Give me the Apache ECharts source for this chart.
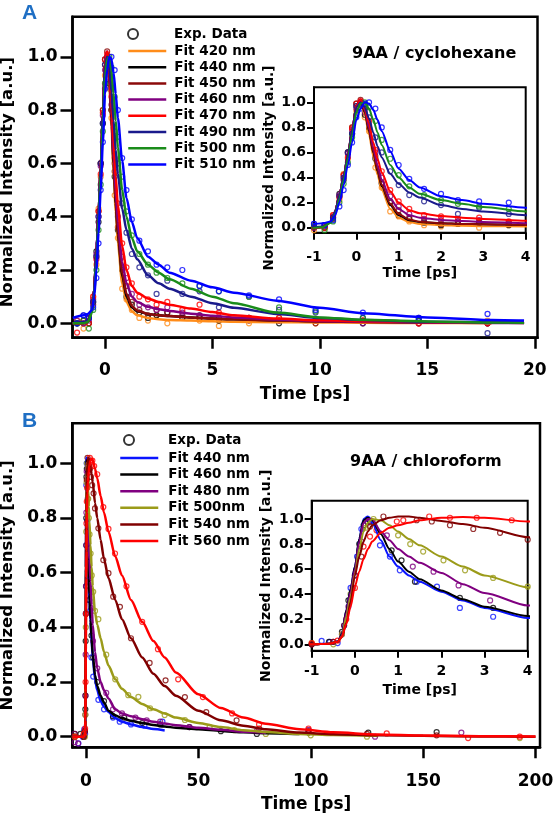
<!DOCTYPE html>
<html>
<head>
<meta charset="utf-8">
<script src="https://cdn.jsdelivr.net/npm/echarts@6/dist/echarts.min.js"></script>
<style>
html, body { margin: 0; padding: 0; background: #fff; }
#chart { width: 555px; height: 819px; }
</style>
</head>
<body>
<div id="chart"></div>
<script>
// ---- panel A : 9AA / cyclohexane ----
const fitNamesA = ['Fit 420 nm', 'Fit 440 nm', 'Fit 450 nm', 'Fit 460 nm', 'Fit 470 nm', 'Fit 490 nm', 'Fit 500 nm', 'Fit 510 nm'];
const colorsA = ['#ff8c1a', '#000000', '#8b0a0a', '#800080', '#ff0000', '#1a1a8c', '#1a8c1a', '#0000ff'];

const tA = [-1.5, -1.0, -0.8, -0.6, -0.5, -0.4, -0.3, -0.2, -0.1, 0, 0.1, 0.2, 0.3, 0.4, 0.5, 0.6, 0.8, 1.0, 1.25, 1.5, 2, 2.5, 3, 4, 5, 6, 8, 10, 12, 15, 18, 19.5];
const fitA420 = [0, 0, 0.005, 0.05, 0.13, 0.25, 0.4, 0.57, 0.76, 0.96, 1.0, 0.9, 0.74, 0.57, 0.42, 0.3, 0.15, 0.08, 0.045, 0.03, 0.02, 0.015, 0.012, 0.01, 0.008, 0.006, 0.004, 0.003, 0.002, 0.001, 0, null];
const fitA440 = [0, 0, 0.005, 0.05, 0.13, 0.26, 0.41, 0.58, 0.77, 0.97, 1.01, 0.92, 0.77, 0.6, 0.45, 0.33, 0.18, 0.1, 0.06, 0.045, 0.035, 0.03, 0.027, 0.022, 0.018, 0.015, 0.011, 0.008, 0.006, 0.004, 0.002, 0.002];
const fitA450 = [0, 0, 0.005, 0.05, 0.13, 0.26, 0.41, 0.58, 0.78, 0.97, 1.02, 0.93, 0.78, 0.61, 0.46, 0.34, 0.19, 0.11, 0.065, 0.048, 0.035, 0.03, 0.027, 0.022, 0.018, 0.015, 0.01, 0.007, 0.005, 0.003, 0.002, 0.001];
const fitA460 = [0, 0, 0.005, 0.05, 0.13, 0.26, 0.41, 0.58, 0.78, 0.97, 1.02, 0.94, 0.8, 0.64, 0.5, 0.38, 0.23, 0.15, 0.1, 0.08, 0.062, 0.053, 0.046, 0.036, 0.028, 0.022, 0.014, 0.009, 0.006, 0.003, 0.001, 0.001];
const fitA470 = [0, 0, 0.005, 0.05, 0.13, 0.26, 0.41, 0.58, 0.78, 0.97, 1.02, 0.95, 0.83, 0.68, 0.55, 0.44, 0.29, 0.2, 0.14, 0.115, 0.093, 0.08, 0.07, 0.055, 0.042, 0.03, 0.018, 0.011, 0.008, 0.005, 0.003, 0.002];
const fitA490 = [0, 0.005, 0.01, 0.05, 0.13, 0.26, 0.41, 0.58, 0.78, 0.96, 1.0, 0.96, 0.87, 0.76, 0.65, 0.56, 0.43, 0.35, 0.28, 0.24, 0.18, 0.15, 0.13, 0.1, 0.075, 0.058, 0.035, 0.02, 0.012, 0.006, 0.003, 0.002];
const fitA500 = [0, 0, 0.005, 0.04, 0.11, 0.23, 0.38, 0.55, 0.74, 0.92, 0.99, 1.0, 0.95, 0.86, 0.76, 0.66, 0.5, 0.4, 0.32, 0.27, 0.22, 0.19, 0.165, 0.13, 0.1, 0.075, 0.04, 0.022, 0.013, 0.007, 0.003, 0.002];
const fitA510 = [0.02, 0.03, 0.035, 0.05, 0.1, 0.2, 0.34, 0.5, 0.68, 0.86, 0.95, 1.0, 0.99, 0.94, 0.86, 0.77, 0.61, 0.47, 0.38, 0.32, 0.25, 0.22, 0.19, 0.16, 0.135, 0.115, 0.085, 0.058, 0.038, 0.022, 0.012, 0.01];

const tAe = [-1.3, -1.0, -0.75, -0.55, -0.4, -0.3, -0.2, -0.1, 0.0, 0.1, 0.2, 0.3, 0.45, 0.6, 0.8, 1.0, 1.25, 1.6, 2.0, 2.4, 2.9, 3.6, 4.4, 5.3, 6.7, 8.1, 9.8, 12, 14.6, 17.8];
const expA420 = [0.01, -0.02, 0.0, 0.1, 0.22, 0.43, 0.55, 0.8, 0.93, 0.98, 0.88, 0.77, 0.48, 0.32, 0.13, 0.09, 0.05, 0.02, 0.01, 0.03, 0.0, 0.02, 0.01, -0.01, 0.0, 0.02, 0.0, 0.01, 0.0, 0.01];
const expA440 = [0.0, 0.01, 0.0, 0.08, 0.27, 0.38, 0.6, 0.75, 0.99, 1.0, 0.9, 0.8, 0.55, 0.35, 0.2, 0.1, 0.07, 0.04, 0.02, 0.03, 0.04, 0.02, 0.03, 0.01, 0.02, 0.0, 0.01, 0.0, 0.01, 0.0];
const expA450 = [0.0, 0.0, 0.02, 0.07, 0.25, 0.42, 0.6, 0.8, 0.97, 1.02, 0.95, 0.8, 0.57, 0.36, 0.21, 0.14, 0.08, 0.05, 0.03, 0.05, 0.04, 0.03, 0.02, 0.02, 0.01, 0.01, 0.0, 0.01, 0.0, 0.0];
const expA460 = [0.01, 0.0, 0.01, 0.09, 0.26, 0.4, 0.59, 0.78, 0.95, 1.0, 0.92, 0.82, 0.6, 0.4, 0.25, 0.17, 0.11, 0.07, 0.06, 0.05, 0.06, 0.04, 0.03, 0.02, 0.02, 0.01, 0.01, 0.0, 0.0, 0.0];
const expA470 = [-0.035, 0.01, 0.0, 0.1, 0.24, 0.42, 0.56, 0.79, 0.99, 1.01, 0.97, 0.85, 0.62, 0.45, 0.3, 0.21, 0.15, 0.1, 0.09, 0.07, 0.08, 0.05, 0.07, 0.04, 0.02, 0.02, 0.01, 0.01, 0.0, 0.0];
const expA490 = [0.0, 0.03, 0.02, 0.08, 0.25, 0.4, 0.6, 0.75, 0.97, 0.99, 0.95, 0.88, 0.72, 0.6, 0.45, 0.34, 0.26, 0.21, 0.18, 0.11, 0.16, 0.11, 0.12, 0.06, 0.1, 0.05, 0.04, 0.02, 0.02, -0.037];
const expA500 = [0.0, 0.01, -0.02, 0.05, 0.2, 0.35, 0.52, 0.72, 0.9, 0.98, 1.0, 0.96, 0.85, 0.7, 0.55, 0.42, 0.33, 0.26, 0.22, 0.19, 0.17, 0.15, 0.14, 0.12, 0.1, 0.06, 0.045, 0.02, 0.01, 0.005];
const expA510 = [0.0, 0.03, 0.02, 0.06, 0.17, 0.3, 0.5, 0.68, 0.88, 0.95, 0.99, 1.0, 0.95, 0.8, 0.62, 0.5, 0.39, 0.31, 0.27, 0.22, 0.21, 0.2, 0.14, 0.12, 0.105, 0.09, 0.05, 0.04, 0.02, 0.035];

// ---- panel B : 9AA / chloroform ----
const fitNamesB = ['Fit 440 nm', 'Fit 460 nm', 'Fit 480 nm', 'Fit 500nm', 'Fit 540 nm', 'Fit 560 nm'];
const colorsB = ['#0a14ff', '#000000', '#800080', '#9b9b19', '#800000', '#ff0000'];

const tB = [-6, -1, -0.6, -0.4, -0.3, -0.2, -0.1, 0, 0.1, 0.2, 0.3, 0.4, 0.6, 0.8, 1.0, 1.25, 1.5, 2, 2.5, 3, 4, 5, 6.5, 8, 10, 13, 16, 20, 25, 30, 35, 40, 50, 60, 70, 80, 95, 110, 130, 150, 175, 200];
const fitB440 = [0, 0, 0.005, 0.02, 0.08, 0.27, 0.44, 0.62, 0.84, 1.0, 1.02, 0.97, 0.83, 0.7, 0.62, 0.55, 0.5, 0.42, 0.35, 0.29, 0.21, 0.17, 0.13, 0.11, 0.09, 0.068, 0.055, 0.045, 0.035, 0.028, 0.023, null, null, null, null, null, null, null, null, null, null, null];
const fitB460 = [0, 0, 0.005, 0.02, 0.08, 0.27, 0.44, 0.62, 0.84, 0.99, 1.01, 0.99, 0.88, 0.76, 0.66, 0.58, 0.52, 0.43, 0.36, 0.3, 0.225, 0.185, 0.15, 0.125, 0.095, 0.078, 0.068, 0.058, 0.05, 0.043, 0.037, 0.033, 0.027, 0.021, 0.016, 0.013, 0.01, null, null, null, null, null];
const fitB480 = [0, 0, 0.005, 0.02, 0.07, 0.25, 0.42, 0.6, 0.82, 0.97, 1.0, 1.0, 0.9, 0.83, 0.76, 0.7, 0.65, 0.57, 0.48, 0.41, 0.31, 0.25, 0.2, 0.17, 0.14, 0.1, 0.085, 0.075, 0.064, 0.055, 0.048, 0.042, 0.033, 0.025, 0.018, 0.014, null, null, null, null, null, null];
const fitB500 = [0, 0, 0.005, 0.02, 0.06, 0.22, 0.38, 0.56, 0.76, 0.9, 0.97, 1.0, 0.99, 0.95, 0.9, 0.84, 0.79, 0.7, 0.62, 0.55, 0.455, 0.41, 0.36, 0.31, 0.26, 0.21, 0.175, 0.145, 0.12, 0.1, 0.085, 0.07, 0.05, 0.035, 0.024, 0.017, 0.01, 0.006, 0.003, null, null, null];
const fitB540 = [0, 0, 0.005, 0.02, 0.06, 0.17, 0.34, 0.55, 0.7, 0.82, 0.9, 0.95, 0.99, 1.01, 1.02, 1.02, 1.01, 0.985, 0.96, 0.93, 0.855, 0.8, 0.72, 0.65, 0.58, 0.5, 0.43, 0.36, 0.29, 0.23, 0.185, 0.15, 0.095, 0.06, 0.04, 0.027, 0.015, 0.009, 0.005, 0.003, 0.001, 0];
const fitB560 = [0, 0, 0.005, 0.02, 0.06, 0.16, 0.3, 0.46, 0.58, 0.68, 0.76, 0.82, 0.89, 0.93, 0.95, 0.97, 0.99, 1.01, 1.015, 1.01, 0.98, 0.945, 0.88, 0.82, 0.75, 0.66, 0.59, 0.5, 0.42, 0.35, 0.29, 0.235, 0.155, 0.105, 0.07, 0.047, 0.027, 0.016, 0.008, 0.004, 0.002, 0.001];

const expB440 = [[-5, 0.01], [-3.4, -0.024], [-1.5, 0.0], [-0.77, 0.027], [-0.58, 0.02], [-0.4, 0.01], [-0.25, 0.15], [-0.1, 0.45], [0.05, 0.7], [0.15, 0.92], [0.3, 1.0], [0.58, 0.79], [0.81, 0.7], [1.04, 0.59], [1.43, 0.5], [1.9, 0.46], [2.43, 0.29], [3.2, 0.22], [5.5, 0.135], [8, 0.1], [12, 0.07], [15, 0.055], [20, 0.045], [26, 0.04], [34, 0.055]];
const expB460 = [[-5, 0.0], [-2.5, 0.01], [-1, 0.0], [-0.6, 0.02], [-0.3, 0.1], [-0.15, 0.35], [0, 0.55], [0.1, 0.8], [0.2, 0.95], [0.35, 0.98], [0.85, 0.75], [1.08, 0.67], [1.39, 0.5], [2.43, 0.37], [3.2, 0.29], [5, 0.2], [8, 0.13], [12, 0.075], [17, 0.07], [25, 0.05], [33, 0.045], [46, 0.035], [60, 0.02], [76, 0.01], [99, 0.015], [125.6, 0.015], [156, 0.017]];
const expB480 = [[-5, -0.02], [-3.5, -0.025], [-1, 0.0], [-0.5, 0.02], [-0.3, 0.08], [-0.15, 0.3], [0, 0.55], [0.15, 0.82], [0.3, 0.97], [0.74, 0.87], [1.34, 0.62], [1.82, 0.58], [2.4, 0.47], [3.13, 0.35], [5, 0.25], [9, 0.16], [12, 0.1], [16, 0.085], [22, 0.07], [27, 0.06], [33, 0.055], [46, 0.035], [76, 0.02], [99, 0.025], [128.6, 0.0], [167, 0.015]];
const expB500 = [[-5, 0.0], [-1, 0.01], [-0.5, 0.0], [-0.3, 0.08], [-0.1, 0.4], [0.1, 0.75], [0.25, 0.93], [0.43, 1.0], [1.0, 0.87], [1.28, 0.8], [1.58, 0.74], [2.05, 0.67], [2.55, 0.59], [3.2, 0.53], [4, 0.46], [5.5, 0.43], [9, 0.3], [13, 0.21], [18.8, 0.152], [23.3, 0.146], [28.5, 0.104], [35, 0.079], [44, 0.061], [55, 0.035], [66, 0.024], [80, 0.01], [100, 0.005], [125, 0.0], [193, -0.005]];
const expB540 = [[-5, 0.01], [-1, 0.0], [-0.5, 0.02], [-0.25, 0.15], [-0.05, 0.45], [0.15, 0.7], [0.35, 0.94], [0.66, 1.02], [1.43, 0.99], [1.78, 0.98], [2.2, 0.95], [2.74, 0.92], [3.36, 0.89], [4, 0.835], [5.5, 0.762], [7.7, 0.646], [10, 0.598], [12.1, 0.512], [15.1, 0.475], [20, 0.36], [28.3, 0.27], [35.4, 0.206], [44, 0.145], [53.5, 0.09], [67, 0.06], [77, 0.03], [99, 0.02], [125, 0.01], [156, 0.005]];
const expB560 = [[-5, 0.0], [-1, 0.01], [-0.4, 0.03], [-0.2, 0.2], [0, 0.45], [0.2, 0.78], [0.35, 0.86], [0.5, 0.91], [0.97, 0.98], [1.12, 0.99], [1.72, 1.02], [2.2, 1.01], [2.82, 1.01], [3.63, 0.99], [5, 0.96], [7.7, 0.84], [10, 0.76], [12.9, 0.67], [18, 0.55], [25, 0.42], [32, 0.32], [41, 0.21], [52, 0.145], [65, 0.085], [77, 0.045], [99, 0.03], [133.8, 0.012], [170, -0.005], [193, 0.0]];

// ticks
const xTicksA = [0, 5, 10, 15, 20];
const xTicksB = [0, 50, 100, 150, 200];
const yTicks = [0, 0.2, 0.4, 0.6, 0.8, 1.0];

const FONT = 'DejaVu Sans';
const zip = (ts, vs) => ts.map((t, i) => [t, vs[i]]).filter(p => p[1] != null);

const fitsA = [fitA420, fitA440, fitA450, fitA460, fitA470, fitA490, fitA500, fitA510];
const expsA = [expA420, expA440, expA450, expA460, expA470, expA490, expA500, expA510];
const fitsB = [fitB440, fitB460, fitB480, fitB500, fitB540, fitB560];
const expsB = [expB440, expB460, expB480, expB500, expB540, expB560];

function txt(size) {
  return { fontFamily: FONT, fontWeight: 'bold', fontSize: size, color: '#000' };
}

function xAxis(grid, min, max, ticks, o) {
  const ax = {
    type: 'value', gridIndex: grid, min: min, max: max,
    name: 'Time [ps]', nameLocation: 'middle', nameGap: o.nameGap, nameTextStyle: txt(o.font),
    axisLine: { show: true, onZero: false, lineStyle: { color: '#000', width: o.lw } },
    axisTick: { show: true, inside: false, length: o.tick, lineStyle: { color: '#000', width: o.lw } },
    axisLabel: Object.assign({ margin: o.margin, showMinLabel: true, showMaxLabel: true }, txt(o.font)),
    splitLine: { show: false }
  };
  if (ticks) {
    ax.axisTick.customValues = ticks;
    ax.axisLabel.customValues = ticks;
  } else {
    ax.interval = 1;
  }
  return ax;
}

function yAxis(grid, min, max, o) {
  return {
    type: 'value', gridIndex: grid, min: min, max: max,
    name: 'Normalized Intensity [a.u.]', nameLocation: 'middle', nameGap: o.nameGap,
    nameTextStyle: Object.assign({ padding: [0, o.shift, 0, 0] }, txt(o.nameFont)),
    axisLine: { show: true, onZero: false, lineStyle: { color: '#000', width: o.lw } },
    axisTick: { show: true, inside: false, length: o.tick, customValues: yTicks, lineStyle: { color: '#000', width: o.lw } },
    axisLabel: Object.assign({ margin: o.margin, customValues: yTicks, formatter: v => v.toFixed(1) }, txt(o.font)),
    splitLine: { show: false }
  };
}

const series = [];
function addPanel(names, colors, fits, tFit, exps, tExp, prefix, mainAx, insetAx) {
  [[mainAx, 2.5, 5], [insetAx, 2, 5]].forEach(([ax, lw, sz], k) => {
    exps.forEach((e, i) => {
      series.push({
        type: 'scatter', xAxisIndex: ax, yAxisIndex: ax, silent: true,
        data: tExp ? zip(tExp, e) : e,
        symbol: 'circle', symbolSize: sz,
        itemStyle: { color: 'rgba(0,0,0,0)', borderColor: colors[i], borderWidth: 1.2 },
        z: 2
      });
    });
    fits.forEach((f, i) => {
      series.push({
        type: 'line', xAxisIndex: ax, yAxisIndex: ax, silent: true,
        name: k === 0 ? prefix + names[i] : undefined,
        data: zip(tFit, f),
        symbol: 'none', showSymbol: false, smooth: 0.25, smoothMonotone: 'x',
        color: colors[i],
        lineStyle: { color: colors[i], width: lw },
        z: 3
      });
    });
  });
}
addPanel(fitNamesA, colorsA, fitsA, tA, expsA, tAe, 'A:', 0, 1);
addPanel(fitNamesB, colorsB, fitsB, tB, expsB, null, 'B:', 2, 3);
series.push({ type: 'scatter', name: 'Exp. Data', xAxisIndex: 0, yAxisIndex: 0, data: [], symbol: 'emptyCircle', itemStyle: { color: '#000' } });

function fitLegend(names, prefix, left, top, gap, pad) {
  return {
    orient: 'vertical', left: left, top: top, padding: 0,
    itemWidth: 38, itemHeight: 10, itemGap: gap, selectedMode: false,
    data: names.map(n => prefix + n),
    formatter: n => n.slice(2),
    itemStyle: { opacity: 0 },
    lineStyle: { width: 2.5 },
    textStyle: Object.assign({ lineHeight: 14, padding: [0, 0, 0, pad] }, txt(13.5))
  };
}
function expLegend(left, top, pad) {
  return {
    left: left, top: top, padding: 0, itemWidth: 10, itemHeight: 10, selectedMode: false,
    data: [{ name: 'Exp. Data', icon: 'emptyCircle', itemStyle: { color: '#000' } }],
    textStyle: Object.assign({ lineHeight: 14, padding: [0, 0, 0, pad] }, txt(13.5))
  };
}

const chart = echarts.init(document.getElementById('chart'), null, { renderer: 'canvas' });
chart.setOption({
  animation: false,
  backgroundColor: '#fff',
  title: [
    { text: 'A', left: 22, top: 3, padding: 0, textStyle: { fontFamily: 'Liberation Sans', fontWeight: 'bold', fontSize: 21, color: '#1f6fc4' } },
    { text: 'B', left: 22, top: 411, padding: 0, textStyle: { fontFamily: 'Liberation Sans', fontWeight: 'bold', fontSize: 21, color: '#1f6fc4' } },
    { text: '9AA / cyclohexane', left: 352, top: 46, padding: 0, textStyle: txt(16) },
    { text: '9AA / chloroform', left: 350, top: 454, padding: 0, textStyle: txt(16) }
  ],
  legend: [
    expLegend(127, 27, 31),
    fitLegend(fitNamesA, 'A:', 127, 44, 2.2, 3),
    expLegend(123, 433, 29),
    fitLegend(fitNamesB, 'B:', 119, 451, 2.6, 5)
  ],
  grid: [
    { left: 72.5, top: 16.7, width: 465, height: 321, show: true, borderColor: '#000', borderWidth: 2.5, backgroundColor: 'rgba(0,0,0,0)', outerBoundsMode: 'none' },
    { left: 314, top: 87.3, width: 211.7, height: 145.4, show: true, borderColor: '#000', borderWidth: 2, backgroundColor: '#fff', outerBoundsMode: 'none' },
    { left: 72.3, top: 423.3, width: 467.7, height: 324, show: true, borderColor: '#000', borderWidth: 2.5, backgroundColor: 'rgba(0,0,0,0)', outerBoundsMode: 'none' },
    { left: 311.7, top: 500.7, width: 216, height: 150, show: true, borderColor: '#000', borderWidth: 2, backgroundColor: '#fff', outerBoundsMode: 'none' }
  ],
  xAxis: [
    xAxis(0, -1.512, 20.126, xTicksA, { nameGap: 48, font: 17, lw: 2.5, tick: 11, margin: 24 }),
    xAxis(1, -1, 4, null, { nameGap: 34, font: 14, lw: 2, tick: 7, margin: 18 }),
    xAxis(2, -6.1, 202, xTicksB, { nameGap: 49, font: 17, lw: 2.5, tick: 11, margin: 26 }),
    xAxis(3, -1, 4, null, { nameGap: 33, font: 14, lw: 2, tick: 7, margin: 14 })
  ],
  yAxis: [
    yAxis(0, -0.0541, 1.1504, { nameGap: 53, nameFont: 16.5, font: 17, lw: 2.5, tick: 12, margin: 15, shift: 10 }),
    yAxis(1, -0.0399, 1.1196, { nameGap: 38, nameFont: 13.5, font: 14, lw: 2, tick: 7, margin: 8, shift: 16 }),
    yAxis(2, -0.0388, 1.1463, { nameGap: 53, nameFont: 16.5, font: 17, lw: 2.5, tick: 12, margin: 15, shift: 0 }),
    yAxis(3, -0.051, 1.146, { nameGap: 38, nameFont: 14, font: 14, lw: 2, tick: 7, margin: 8, shift: 0 })
  ],
  series: series
});
</script>
</body>
</html>
